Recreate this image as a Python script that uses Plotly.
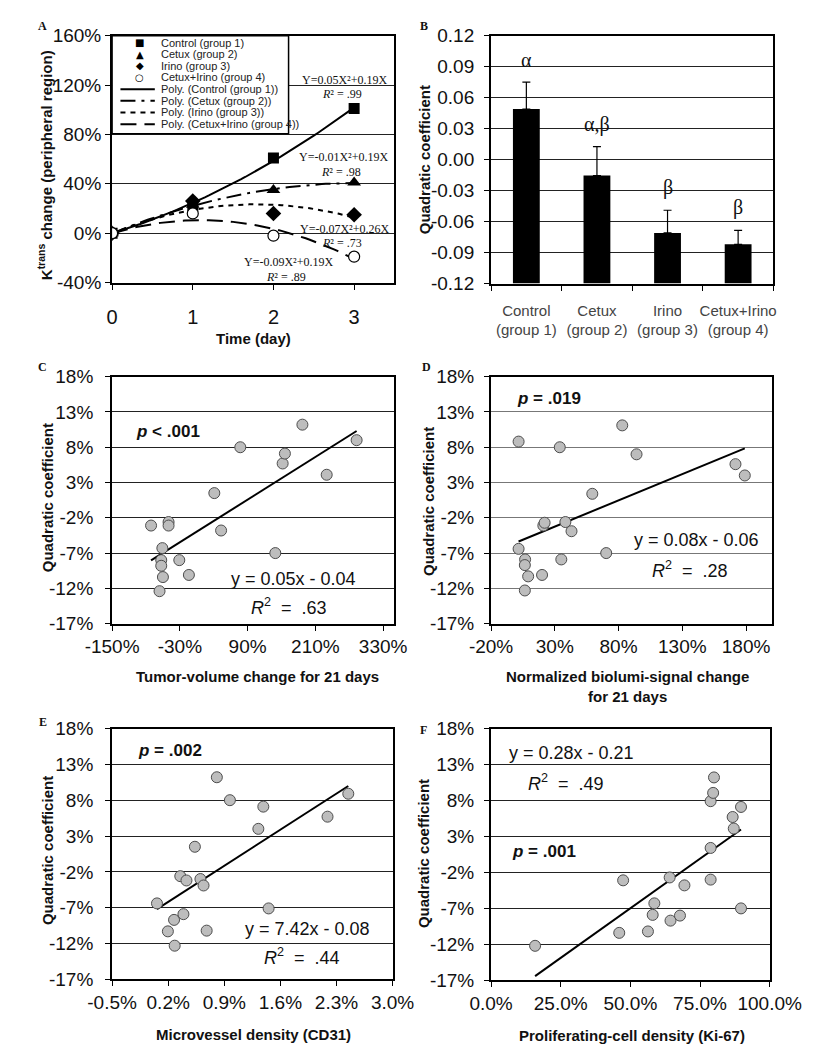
import numpy as np
import plotly.graph_objects as go

W, H = 829, 1050
SANS = "Arial, Liberation Sans, sans-serif"
SERIF = "Times New Roman, Liberation Serif, serif"

# ---------------- data ----------------
# Panel A: Ktrans change (peripheral region) over time
days = [0, 1, 2, 3]
ktrans_control = [0.0, 0.22, 0.61, 1.01]
ktrans_cetux = [0.0, 0.23, 0.35, 0.41]
ktrans_irino = [0.0, 0.26, 0.16, 0.15]
ktrans_combo = [0.0, 0.16, -0.02, -0.19]
group_names = ["Control (group 1)", "Cetux (group 2)", "Irino (group 3)", "Cetux+Irino (group 4)"]
fit_equations = ["Y=0.05X²+0.19X", "Y=-0.01X²+0.19X", "Y=-0.07X²+0.26X", "Y=-0.09X²+0.19X"]
fit_r2 = [".99", ".98", ".73", ".89"]
a_yticks = ["-40%", "0%", "40%", "80%", "120%", "160%"]

# Panel B: quadratic coefficient by group
bar_groups = ["Control<br>(group 1)", "Cetux<br>(group 2)", "Irino<br>(group 3)", "Cetux+Irino<br>(group 4)"]
quad_mean = [0.049, -0.0155, -0.071, -0.082]
quad_err = [0.026, 0.028, 0.022, 0.0135]
sig_letters = ["α", "α,β", "β", "β"]
b_yticks = ["-0.12", "-0.09", "-0.06", "-0.03", "0.00", "0.03", "0.06", "0.09", "0.12"]

# Panels C-F shared y tick labels
quad_yticks = ["-17%", "-12%", "-7%", "-2%", "3%", "8%", "13%", "18%"]

# Panel C: tumor-volume change vs quadratic coefficient
tumor_change = [-0.81, -0.50, -0.50, -0.61, -0.63, -0.63, -0.60, -0.66, -0.31, -0.14,
                0.31, 0.43, 0.77, 1.39, 1.52, 1.56, 1.87, 2.30, 2.83]
quad_c = [-0.031, -0.026, -0.031, -0.063, -0.080, -0.088, -0.104, -0.124, -0.080, -0.101,
          0.015, -0.038, 0.080, -0.070, 0.057, 0.071, 0.112, 0.041, 0.090]
c_xticks = ["-150%", "-30%", "90%", "210%", "330%"]

# Panel D: normalized biolumi-signal change
biolumi_change = [0.016, 0.339, 0.829, 0.941, 1.717, 1.79, 0.594, 0.21, 0.22, 0.383,
                  0.431, 0.016, 0.067, 0.065, 0.091, 0.065, 0.20, 0.351, 0.703]
quad_d = [0.088, 0.080, 0.111, 0.070, 0.056, 0.040, 0.014, -0.031, -0.027, -0.026,
          -0.039, -0.064, -0.079, -0.087, -0.103, -0.123, -0.101, -0.079, -0.070]
d_xticks = ["-20%", "30%", "80%", "130%", "180%"]

# Panel E: microvessel density (CD31)
mvd_cd31 = [0.0006, 0.00196, 0.00273, 0.00281, 0.00351, 0.0039, 0.00428, 0.00533, 0.00602,
            0.00641, 0.0068, 0.00807, 0.0097, 0.01325, 0.01387, 0.01453, 0.02188, 0.02447]
quad_e = [-0.064, -0.103, -0.087, -0.123, -0.026, -0.079, -0.032, 0.015, -0.030,
          -0.039, -0.102, 0.112, 0.080, 0.040, 0.071, -0.071, 0.057, 0.089]
e_xticks = ["-0.5%", "0.2%", "0.9%", "1.6%", "2.3%", "3.0%"]

# Panel F: proliferating-cell density (Ki-67)
ki67 = [0.158, 0.46, 0.474, 0.563, 0.58, 0.586, 0.641, 0.644, 0.678, 0.694,
        0.788, 0.788, 0.788, 0.797, 0.80, 0.867, 0.871, 0.897, 0.897]
quad_f = [-0.122, -0.104, -0.031, -0.102, -0.079, -0.063, -0.027, -0.087, -0.080, -0.038,
          -0.030, 0.014, 0.079, 0.0905, 0.112, 0.057, 0.041, 0.071, -0.070]
f_xticks = ["0.0%", "25.0%", "50.0%", "75.0%", "100.0%"]

scatter_text = {
    "C": ("Tumor-volume change for 21 days", "<b><i>p</i> &lt; .001</b>", "y = 0.05x - 0.04", ".63"),
    "D": ("Normalized biolumi-signal change<br>for 21 days", "<b><i>p</i> = .019</b>", "y = 0.08x - 0.06", ".28"),
    "E": ("Microvessel density (CD31)", "<b><i>p</i> = .002</b>", "y = 7.42x - 0.08", ".44"),
    "F": ("Proliferating-cell density (Ki-67)", "<b><i>p</i> = .001</b>", "y = 0.28x - 0.21", ".49"),
}

# ---------------- layout helpers ----------------
def px(x, y):
    return x / W, 1 - y / H

def dom(l, t, r, b):
    return [l / W, r / W], [1 - b / H, 1 - t / H]

rects = {
    "A": (83, 18, 387, 270),
    "B": (491, 18, 795, 271),
    "C": (83, 366, 387, 618),
    "D": (491, 366, 793, 618),
    "E": (83, 725, 385, 981),
    "F": (491, 725, 791, 982),
}
axis_ids = {"A": "", "B": "2", "C": "3", "D": "4", "E": "5", "F": "6"}

fig = go.Figure()
annotations = []
shapes = []

def ann(x, y, text, size=12, family=SANS, color="#111", xanchor="center", yanchor="middle", angle=0):
    xp, yp = px(x, y)
    annotations.append(dict(x=xp, y=yp, xref="paper", yref="paper", text=text, showarrow=False,
                            font=dict(size=size, family=family, color=color),
                            xanchor=xanchor, yanchor=yanchor, textangle=angle))

def ticks(start, step, labels):
    return [round(start + i * step, 6) for i in range(len(labels))]

# ---------------- Panel A ----------------
def fit0(x, y):
    x = np.asarray(x, float); y = np.asarray(y, float)
    A = np.column_stack([x ** 2, x])
    coef, *_ = np.linalg.lstsq(A, y, rcond=None)
    return coef

series_a = [ktrans_control, ktrans_cetux, ktrans_irino, ktrans_combo]
dash_styles = ["solid", "longdashdot", "5px,5px", "16px,8px"]
xs = np.linspace(min(days), max(days), 61)
for vals, dash in zip(series_a, dash_styles):
    a, b = fit0(days, vals)
    fig.add_trace(go.Scatter(x=xs, y=a * xs ** 2 + b * xs, mode="lines", xaxis="x", yaxis="y",
                             line=dict(color="black", width=2, dash=dash), showlegend=False,
                             hoverinfo="skip"))
marker_specs = [
    dict(symbol="square", size=11, color="black"),
    dict(symbol="triangle-up", size=12, color="black"),
    dict(symbol="diamond", size=12, color="black"),
    dict(symbol="circle", size=11, color="white", line=dict(color="black", width=1.2)),
]
for vals, mk, name in zip(series_a, marker_specs, group_names):
    fig.add_trace(go.Scatter(x=days, y=vals, mode="markers", xaxis="x", yaxis="y",
                             marker=mk, name=name, showlegend=False))

# equation labels (panel A)
eq_pos = [(333, 63), (332, 142), (333, 215), (273, 249)]
for (ex, ey), eq, r2 in zip(eq_pos, fit_equations, fit_r2):
    ann(ex, ey, eq, size=12, family=SERIF)
    ann(ex - 3, ey + 15, "<i>R</i>² = " + r2, size=12, family=SERIF)

# manual legend box (panel A)
lx0, ly0, lx1, ly1 = 83, 18, 273, 118
shapes.append(dict(type="rect", xref="paper", yref="paper",
                   x0=lx0 / W, x1=lx1 / W, y0=1 - ly1 / H, y1=1 - ly0 / H,
                   line=dict(color="black", width=1.5), fillcolor="white", layer="above"))
legend_glyphs = ["■", "▲", "◆", "○"]
legend_labels = group_names + ["Poly. (" + g + ")" for g in group_names]
for i, lab in enumerate(legend_labels):
    yy = 25 + i * 11.9
    if i < 4:
        ann(113, yy, legend_glyphs[i], size=10, family="DejaVu Sans", color="black")
    else:
        shapes.append(dict(type="line", xref="paper", yref="paper",
                           x0=92 / W, x1=129 / W, y0=1 - yy / H, y1=1 - yy / H,
                           line=dict(color="black", width=2, dash=dash_styles[i - 4]), layer="above"))
    ann(133, yy, lab, size=11, color="#222", xanchor="left")

# ---------------- Panel B ----------------
b_floor = -0.12  # bars rise from the bottom of the value axis (Excel style)
fig.add_trace(go.Bar(x=bar_groups, y=[m - b_floor for m in quad_mean], base=b_floor,
                     xaxis="x2", yaxis="y2",
                     marker=dict(color="black", line=dict(width=0)), width=0.38,
                     error_y=dict(type="data", symmetric=False, array=quad_err,
                                  arrayminus=[0] * len(quad_err), color="black",
                                  thickness=1.2, width=4),
                     showlegend=False))
for g, m, e, s in zip(bar_groups, quad_mean, quad_err, sig_letters):
    annotations.append(dict(x=g, y=m + e, xref="x2", yref="y2", text=s, showarrow=False,
                            font=dict(size=20, family=SERIF, color="#111"),
                            yanchor="bottom", yshift=9))

# ---------------- Scatter panels ----------------
scatter_sets = {
    "C": (tumor_change, quad_c),
    "D": (biolumi_change, quad_d),
    "E": (mvd_cd31, quad_e),
    "F": (ki67, quad_f),
}
for key, (xv, yv) in scatter_sets.items():
    ax = axis_ids[key]
    k, c = np.polyfit(xv, yv, 1)  # least-squares trendline of the plotted points
    xl = np.array([min(xv), max(xv)])
    fig.add_trace(go.Scatter(x=xl, y=k * xl + c, mode="lines", xaxis="x" + ax, yaxis="y" + ax,
                             line=dict(color="black", width=2), showlegend=False, hoverinfo="skip"))
    fig.add_trace(go.Scatter(x=xv, y=yv, mode="markers", xaxis="x" + ax, yaxis="y" + ax,
                             marker=dict(size=11, color="#bdbdbd", line=dict(color="#4d4d4d", width=1)),
                             showlegend=False))

ann_pos = {
    "C": dict(xt=(240, 672), p=(143, 422), eq=(278, 572), r2=(273, 601)),
    "D": dict(xt=(638, 682), p=(553, 388), eq=(712, 533), r2=(705, 563)),
    "E": dict(xt=(235, 1037), p=(145, 747), eq=(293, 930), r2=(287, 958)),
    "F": dict(xt=(643, 1038), p=(548, 850), eq=(578, 750), r2=(572, 780)),
}
for key, (xtitle, ptxt, eqtxt, r2) in scatter_text.items():
    pos = ann_pos[key]
    ann(*pos["xt"], "<b>" + xtitle + "</b>", size=15, color="#111")
    ann(*pos["p"], ptxt, size=17, color="#111")
    ann(*pos["eq"], eqtxt, size=18, color="#111")
    ann(*pos["r2"], "<i>R</i><sup>2</sup>  =  " + r2, size=18, color="#111")

# axis titles and panel letters
ann(235, 327, "<b>Time (day)</b>", size=15)
ann(11, 150, "<b>K<sup>trans</sup> change (peripheral region)</b>", size=15, angle=-90)
for (xx, yy) in [(419, 145), (13, 490), (423, 493), (13, 850), (419, 853)]:
    ann(xx, yy, "<b>Quadratic coefficient</b>", size=15, angle=-90)
for letter, (xx, yy) in {"A": (8, 8), "B": (419, 8), "C": (8, 356), "D": (421, 356),
                         "E": (9, 718), "F": (418, 727)}.items():
    ann(xx, yy, "<b>" + letter + "</b>", size=12, family=SERIF)

# ---------------- axes ----------------
tickfont = dict(size=19, family=SANS, color="#111")
def xaxis_cfg(key, **kw):
    xd, _ = dom(*rects[key])
    base = dict(domain=xd, showline=True, mirror=True, linecolor="black", linewidth=2,
                showgrid=False, zeroline=False, ticks="outside", ticklen=5, tickcolor="black",
                tickfont=tickfont, tickangle=0, anchor="y" + axis_ids[key], fixedrange=True)
    base.update(kw)
    return base

def yaxis_cfg(key, **kw):
    _, yd = dom(*rects[key])
    base = dict(domain=yd, showline=True, mirror=True, linecolor="black", linewidth=2,
                showgrid=True, gridcolor="#222", gridwidth=1, zeroline=False,
                ticks="outside", ticklen=5, tickcolor="black",
                tickfont=tickfont, anchor="x" + axis_ids[key], fixedrange=True)
    base.update(kw)
    return base

quad_tickvals = ticks(-0.17, 0.05, quad_yticks)
layout = dict(
    width=W, height=H, margin=dict(l=0, r=0, t=0, b=0),
    paper_bgcolor="white", plot_bgcolor="white", showlegend=False,
    font=dict(family=SANS),
    xaxis=xaxis_cfg("A", range=[0, 3.5], dtick=1, tick0=0, ticklabelstandoff=10,
                    tickfont=dict(size=20, family=SANS, color="#111")),
    yaxis=yaxis_cfg("A", range=[-0.4, 1.6], tickvals=ticks(-0.4, 0.4, a_yticks), ticktext=a_yticks),
    xaxis2=xaxis_cfg("B", type="category", range=[-0.5, 3.5], tickson="boundaries",
                     ticklabelstandoff=12, tickfont=dict(size=15, family=SANS, color="#444")),
    yaxis2=yaxis_cfg("B", range=[-0.12, 0.12], tickvals=ticks(-0.12, 0.03, b_yticks), ticktext=b_yticks,
                     ticklabelstandoff=6),
    xaxis3=xaxis_cfg("C", range=[-1.5, 3.5], tickvals=ticks(-1.5, 1.2, c_xticks), ticktext=c_xticks),
    yaxis3=yaxis_cfg("C", range=[-0.17, 0.18], tickvals=quad_tickvals, ticktext=quad_yticks,
                     ticklabelstandoff=8),
    xaxis4=xaxis_cfg("D", range=[-0.2, 2.0], tickvals=ticks(-0.2, 0.5, d_xticks), ticktext=d_xticks),
    yaxis4=yaxis_cfg("D", range=[-0.17, 0.18], tickvals=quad_tickvals, ticktext=quad_yticks,
                     ticklabelstandoff=6, gridcolor="#777"),
    xaxis5=xaxis_cfg("E", range=[-0.005, 0.030], tickvals=ticks(-0.005, 0.007, e_xticks), ticktext=e_xticks),
    yaxis5=yaxis_cfg("E", range=[-0.17, 0.18], tickvals=quad_tickvals, ticktext=quad_yticks,
                     ticklabelstandoff=8),
    xaxis6=xaxis_cfg("F", range=[0, 1.0], tickvals=ticks(0, 0.25, f_xticks), ticktext=f_xticks),
    yaxis6=yaxis_cfg("F", range=[-0.17, 0.18], tickvals=quad_tickvals, ticktext=quad_yticks,
                     ticklabelstandoff=6),
    annotations=annotations,
    shapes=shapes,
)
fig.update_layout(**layout)
fig.write_html("out.html")
